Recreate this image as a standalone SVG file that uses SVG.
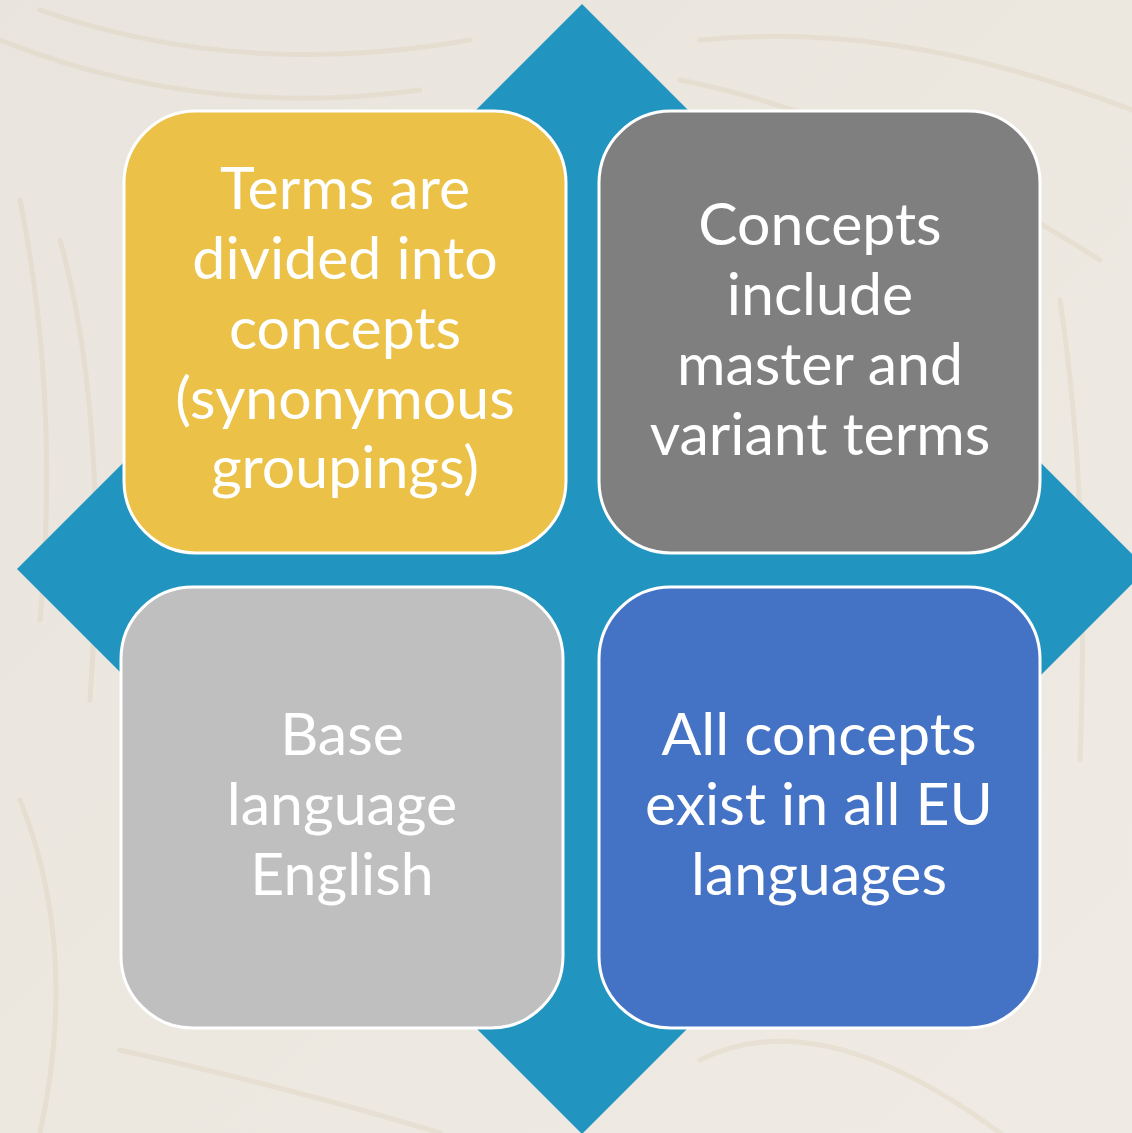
<svg xmlns="http://www.w3.org/2000/svg" width="1132" height="1133" viewBox="0 0 1132 1133">
<defs>
<style>
.box{stroke:#FFFFFF;stroke-width:3}
.t{font-family:Lato,"Open Sans","Liberation Sans",sans-serif;font-size:59px;fill:#FFFFFF;text-anchor:middle}
.frond{fill:none;stroke:#D6C9AE;stroke-width:5;stroke-linecap:round;opacity:0.3}
</style>
<linearGradient id="bg" x1="0" y1="0" x2="1" y2="1">
<stop offset="0" stop-color="#E9E5DE"/>
<stop offset="0.5" stop-color="#ECE8E0"/>
<stop offset="1" stop-color="#EFEBE4"/>
</linearGradient>
</defs>
<rect x="0" y="0" width="1132" height="1133" fill="url(#bg)"/>
<g id="background-fronds">
<path class="frond" d="M0 40 Q200 120 420 90"/>
<path class="frond" d="M40 10 Q240 80 470 40"/>
<path class="frond" d="M700 40 Q900 20 1132 110"/>
<path class="frond" d="M680 80 Q880 120 1100 260"/>
<path class="frond" d="M20 200 Q60 400 40 620"/>
<path class="frond" d="M60 240 Q110 420 90 700"/>
<path class="frond" d="M1060 300 Q1090 500 1080 760"/>
<path class="frond" d="M20 800 Q80 950 40 1133"/>
<path class="frond" d="M700 1060 Q820 1000 1000 1133"/>
<path class="frond" d="M120 1050 Q300 1090 440 1133"/>
</g>
<g id="diamond">
<polygon points="582,4 1147,569 582,1134 17,569" fill="#2194C0"/>
</g>
<g id="connectors"></g>
<g id="node-terms">
<rect class="box" x="124" y="111" width="442" height="442" rx="72" fill="#EBC147"/>
<text class="t" x="345" y="209">Terms are</text>
<text class="t" x="345" y="279">divided into</text>
<text class="t" x="345" y="349">concepts</text>
<text class="t" x="345" y="419">(synonymous</text>
<text class="t" x="345" y="488">groupings)</text>
</g>
<g id="node-concepts">
<rect class="box" x="599" y="111" width="441" height="442" rx="72" fill="#7F7F7F"/>
<text class="t" x="820" y="245">Concepts</text>
<text class="t" x="820" y="315">include</text>
<text class="t" x="820" y="385">master and</text>
<text class="t" x="820" y="455">variant terms</text>
</g>
<g id="node-base">
<rect class="box" x="121" y="587" width="442" height="441" rx="72" fill="#BFBFBF"/>
<text class="t" x="342" y="755">Base</text>
<text class="t" x="342" y="825">language</text>
<text class="t" x="342" y="895">English</text>
</g>
<g id="node-all">
<rect class="box" x="599" y="587" width="441" height="441" rx="72" fill="#4472C4"/>
<text class="t" x="819" y="755">All concepts</text>
<text class="t" x="819" y="825">exist in all EU</text>
<text class="t" x="819" y="895">languages</text>
</g>
</svg>
